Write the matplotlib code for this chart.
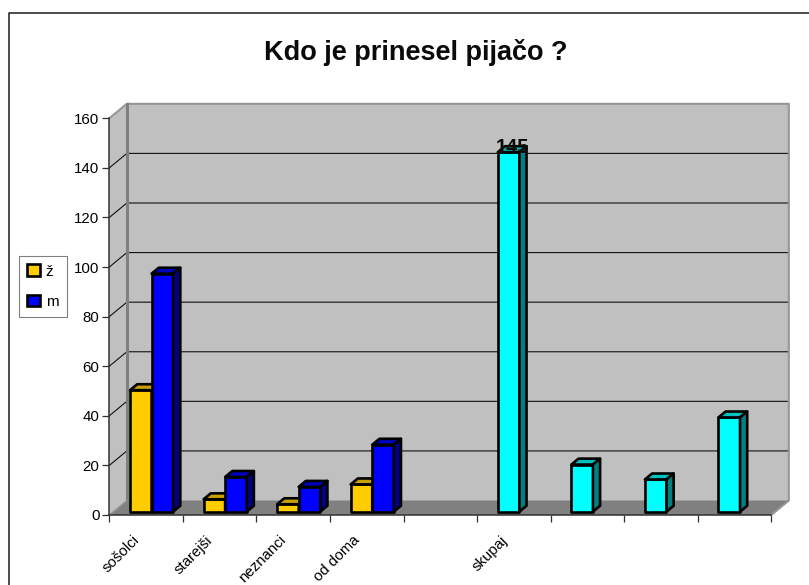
#!/usr/bin/env python3
"""Kdo je prinesel pijaco - Excel style 3D column chart."""

import matplotlib
matplotlib.use("Agg")
import matplotlib.pyplot as plt
from matplotlib.lines import Line2D
from matplotlib.patches import Polygon, Patch

plt.rcParams["font.family"] = ["Liberation Sans", "DejaVu Sans"]

W, H = 809, 585

TITLE = "Kdo je prinesel pijačo ?"
CATEGORIES = ["sošolci", "starejši", "neznanci", "od doma", "", "skupaj", "", "", ""]
Y_TICKS = [0, 20, 40, 60, 80, 100, 120, 140, 160]

Z_POS = [0, 1, 2, 3]
Z_VALUES = [49, 5, 3, 11]
M_POS = [0, 1, 2, 3]
M_VALUES = [96, 14, 10, 27]
TOTAL_POS = [5, 6, 7, 8]
TOTAL_VALUES = [145, 19, 13, 38]

# depth of the fake 3D box, in data units
DX = 0.238
DY = 5.84
BAR_W = 0.293
BAR_Z0 = 0.23
BAR_DZ = 0.41
BAR_X0 = 0.227


def p3(x, y, z):
    return (x + z * DX, y + z * DY)


def draw_bar(ax, x, val, front, top, side, order):
    z0, z1 = BAR_Z0, BAR_Z0 + BAR_DZ
    x1 = x + BAR_W
    faces = [
        ([p3(x, 0, z0), p3(x1, 0, z0), p3(x1, val, z0), p3(x, val, z0)], front),
        ([p3(x, val, z0), p3(x1, val, z0), p3(x1, val, z1), p3(x, val, z1)], top),
        ([p3(x1, 0, z0), p3(x1, 0, z1), p3(x1, val, z1), p3(x1, val, z0)], side),
    ]
    for pts, col in faces:
        ax.add_patch(Polygon(pts, closed=True, facecolor=col, edgecolor="black",
                             linewidth=1.9, joinstyle="round", zorder=order, clip_on=False))


fig = plt.figure(figsize=(W / 100, H / 100), dpi=100, facecolor="white")
ax = fig.add_axes([109.3 / W, 1 - 515 / H, 662 / W, 396.7 / H])
ax.set_xlim(0, 9)
ax.set_ylim(0, 160)
ax.patch.set_visible(False)

# outer chart border, runs off the image at right and bottom
fig.add_artist(Line2D([9 / W, 9 / W, 1], [0, 1 - 13 / H, 1 - 13 / H], color="#1a1a1a", linewidth=1.1))

# walls and floor
ax.add_patch(Polygon([p3(0, 0, 0), p3(0, 160, 0), p3(0, 160, 1), p3(0, 0, 1)], facecolor="#c0c0c0",
                     edgecolor="none", zorder=1, clip_on=False))
ax.add_patch(Polygon([p3(0, 0, 1), p3(0, 160, 1), p3(9, 160, 1), p3(9, 0, 1)], facecolor="#c0c0c0",
                     edgecolor="none", zorder=1, clip_on=False))
ax.add_patch(Polygon([p3(0, 0, 0), p3(9, 0, 0), p3(9, 0, 1), p3(0, 0, 1)], facecolor="#808080",
                     edgecolor="none", zorder=1.5, clip_on=False))

# gridlines
for v in Y_TICKS[1:-1]:
    xs, ys = zip(p3(0, v, 0), p3(0, v, 1), p3(9, v, 1))
    ax.plot(xs, ys, color="#111111", linewidth=0.8, zorder=2, clip_on=False)

# grey wall edges
xs, ys = zip(p3(0, 160, 0), p3(0, 160, 1), p3(9, 160, 1), p3(9, 0, 1), p3(9, 0, 0))
ax.plot(xs, ys, color="#969696", linewidth=1.5, zorder=2.5, clip_on=False)
xs, ys = zip(p3(0, 0, 1), p3(0, 160, 1))
ax.plot(xs, ys, color="#808080", linewidth=2.2, zorder=2.5, clip_on=False)
xs, ys = zip(p3(0, 0, 0), p3(0, 0, 1))
ax.plot(xs, ys, color="#969696", linewidth=1.0, zorder=2.5, clip_on=False)

# bars
order = 3
for i in range(4):
    draw_bar(ax, Z_POS[i] + BAR_X0, Z_VALUES[i], "#ffcc00", "#c8a000", "#806600", order)
    draw_bar(ax, M_POS[i] + BAR_X0 + BAR_W, M_VALUES[i], "#0000ff", "#0000c0", "#000080", order + 1)
    order += 2
for pos, val in zip(TOTAL_POS, TOTAL_VALUES):
    draw_bar(ax, pos + BAR_X0, val, "#00ffff", "#00c0c0", "#008080", order)
    order += 1

# data label
ax.text(TOTAL_POS[0] + 0.482, TOTAL_VALUES[0] + 3.2, str(TOTAL_VALUES[0]),
        ha="center", va="center", fontsize=14.5, fontweight="bold", color="#0a0a0a", zorder=50)

# axes
for s in ["top", "right"]:
    ax.spines[s].set_visible(False)
for s in ["left", "bottom"]:
    ax.spines[s].set_color("#303030")
    ax.spines[s].set_linewidth(1.1)
    ax.spines[s].set_zorder(2.8)

ax.set_yticks(Y_TICKS)
ax.set_xticks(range(10))
ax.set_xticklabels([])
ax.tick_params(axis="both", which="major", length=5, width=0.9, color="#303030", labelsize=10.8, pad=2)
ax.set_xticks([i + 0.31 for i in range(9)], minor=True)
ax.set_xticklabels(CATEGORIES, minor=True, rotation=45, ha="right", va="top", rotation_mode="anchor", fontsize=10.8)
ax.tick_params(axis="x", which="minor", length=0, pad=13)

fig.text(416 / W, 1 - 52 / H, TITLE, ha="center", va="center", fontsize=19.5, fontweight="bold", color="#0a0a0a")

# legend
handles = [Patch(facecolor="#ffcc00", edgecolor="black", linewidth=1.9),
           Patch(facecolor="#0000ff", edgecolor="black", linewidth=1.9)]
leg = fig.legend(handles, ["ž", "m"], loc="upper left", bbox_to_anchor=(19 / W, 1 - 256 / H),
                 bbox_transform=fig.transFigure, fontsize=11, fancybox=False, framealpha=1,
                 edgecolor="#808080", borderaxespad=0, borderpad=0.55, labelspacing=1.05,
                 handlelength=0.8, handleheight=0.8, handletextpad=0.4)
leg.get_frame().set_linewidth(0.8)

fig.savefig("out.png", dpi=100)
